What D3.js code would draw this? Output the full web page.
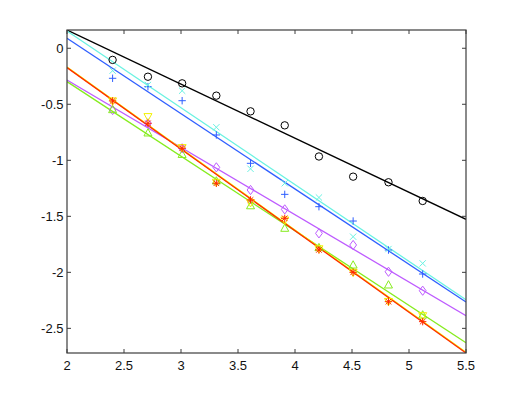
<!DOCTYPE html>
<html><head><meta charset="utf-8">
<script src="https://cdn.jsdelivr.net/npm/d3@7"></script>
<style>html,body{margin:0;padding:0;background:#fff;}svg{display:block;}</style>
</head><body>
<script>
// ---- data ----
const xs = [2.40, 2.71, 3.01, 3.31, 3.61, 3.91, 4.21, 4.51, 4.82, 5.12];
const xTicks = [2, 2.5, 3, 3.5, 4, 4.5, 5, 5.5];
const xTickLabels = ["2", "2.5", "3", "3.5", "4", "4.5", "5", "5.5"];
const yTicks = [0, -0.5, -1, -1.5, -2, -2.5];
const yTickLabels = ["0", "-0.5", "-1", "-1.5", "-2", "-2.5"];
const xLimits = [2, 5.5];
const yLimits = [-2.72, 0.163];

const seriesNames = ["black", "blue", "cyan", "purple", "green", "yellow", "red"];
const blackVals  = [-0.104, -0.254, -0.313, -0.423, -0.563, -0.688, -0.966, -1.146, -1.196, -1.363];
const blueVals   = [-0.268, -0.343, -0.468, -0.774, -1.027, -1.304, -1.414, -1.542, -1.801, -2.015];
const cyanVals   = [-0.200, -0.328, -0.379, -0.705, -1.076, -1.205, -1.332, -1.682, -1.792, -1.920];
const purpleVals = [-0.551, -0.670, -0.893, -1.063, -1.265, -1.438, -1.652, -1.756, -1.995, -2.164];
const greenVals  = [-0.548, -0.756, -0.948, -1.185, -1.406, -1.607, -1.780, -1.935, -2.113, -2.381];
const yellowVals = [-0.470, -0.610, -0.887, -1.196, -1.378, -1.533, -1.790, -2.000, -2.260, -2.387];
const redVals    = [-0.470, -0.670, -0.893, -1.205, -1.354, -1.518, -1.800, -2.000, -2.262, -2.440];

// fitted line values at x = 2 and x = 5.5
const lineStart = [0.163, 0.089, 0.154, -0.284, -0.298, -0.168, -0.173];
const lineEnd   = [-1.527, -2.265, -2.245, -2.387, -2.628, -2.713, -2.720];

const colors  = ["#000000", "#2f5fff", "#6af2e2", "#be5cff", "#86ec1e", "#f2f200", "#ff2a00"];
const markers = ["circle", "plus", "cross", "diamond", "triUp", "triDown", "star"];
const allVals = [blackVals, blueVals, cyanVals, purpleVals, greenVals, yellowVals, redVals];

// ---- layout ----
const W = 515, H = 399;
const L = 67, R = 466, T = 30, B = 353;

const svg = d3.select("body").append("svg").attr("width", W).attr("height", H);
const x = d3.scaleLinear().domain(xLimits).range([L, R]);
const y = d3.scaleLinear().domain(yLimits).range([B, T]);

const plot = svg.append("g");
plot.append("clipPath").attr("id", "clip").append("rect")
  .attr("x", L).attr("y", T).attr("width", R - L).attr("height", B - T);

const lines = plot.append("g").attr("clip-path", "url(#clip)");
// draw order: yellow before red so red sits on top
const order = [0, 2, 1, 3, 4, 5, 6];
order.forEach(i => {
  lines.append("line")
    .attr("x1", x(xLimits[0])).attr("y1", y(lineStart[i]))
    .attr("x2", x(xLimits[1])).attr("y2", y(lineEnd[i]))
    .attr("stroke", colors[i]).attr("stroke-width", 1.3);
});

function markerPath(type) {
  const s = 3.7;
  switch (type) {
    case "plus": return `M${-s},0H${s}M0,${-s}V${s}`;
    case "cross": { const c = s * 0.85; return `M${-c},${-c}L${c},${c}M${-c},${c}L${c},${-c}`; }
    case "diamond": return `M0,${-4.6}L${3.4},0L0,${4.6}L${-3.4},0Z`;
    case "triUp": return `M0,${-4.3}L${4},${3}L${-4},${3}Z`;
    case "triDown": return `M0,${4.3}L${4},${-3}L${-4},${-3}Z`;
    case "star": { const c = s * 0.75; return `M${-s},0H${s}M0,${-s}V${s}M${-c},${-c}L${c},${c}M${-c},${c}L${c},${-c}`; }
  }
  return "";
}

const mk = plot.append("g");
[0, 1, 2, 3, 4, 5, 6].forEach(i => {
  const g = mk.append("g");
  const vals = allVals[i];
  if (markers[i] === "circle") {
    g.selectAll("circle").data(xs).join("circle")
      .attr("cx", (d) => x(d)).attr("cy", (d, j) => y(vals[j])).attr("r", 3.7)
      .attr("fill", "none").attr("stroke", colors[i]).attr("stroke-width", 1);
  } else {
    g.selectAll("path").data(xs).join("path")
      .attr("transform", (d, j) => `translate(${x(d)},${y(vals[j])})`)
      .attr("d", markerPath(markers[i]))
      .attr("fill", "none").attr("stroke", colors[i]).attr("stroke-width", 1);
  }
});

// ---- axes ----
const axisColor = "#3c3c3c";
const tl = 4;
const ax = svg.append("g");
xTicks.forEach(t => {
  const px = x(t);
  ax.append("line").attr("x1", px).attr("x2", px).attr("y1", B).attr("y2", B - tl).attr("stroke", axisColor);
  ax.append("line").attr("x1", px).attr("x2", px).attr("y1", T).attr("y2", T + tl).attr("stroke", axisColor);
});
yTicks.forEach(t => {
  const py = y(t);
  ax.append("line").attr("x1", L).attr("x2", L + tl).attr("y1", py).attr("y2", py).attr("stroke", axisColor);
  ax.append("line").attr("x1", R).attr("x2", R - tl).attr("y1", py).attr("y2", py).attr("stroke", axisColor);
});
ax.append("rect").attr("x", L).attr("y", T).attr("width", R - L).attr("height", B - T)
  .attr("fill", "none").attr("stroke", axisColor).attr("stroke-width", 1.2);

const font = "'Liberation Sans', Arial, Helvetica, sans-serif";
svg.append("g").selectAll("text").data(xTicks).join("text")
  .attr("x", d => x(d)).attr("y", B + 16.5)
  .attr("text-anchor", "middle").attr("font-family", font).attr("font-size", 13).attr("fill", "#111")
  .text((d, i) => xTickLabels[i]);
svg.append("g").selectAll("text").data(yTicks).join("text")
  .attr("x", L - 3.5).attr("y", d => y(d) + 4.7)
  .attr("text-anchor", "end").attr("font-family", font).attr("font-size", 13).attr("fill", "#111")
  .text((d, i) => yTickLabels[i]);
</script>
</body></html>
